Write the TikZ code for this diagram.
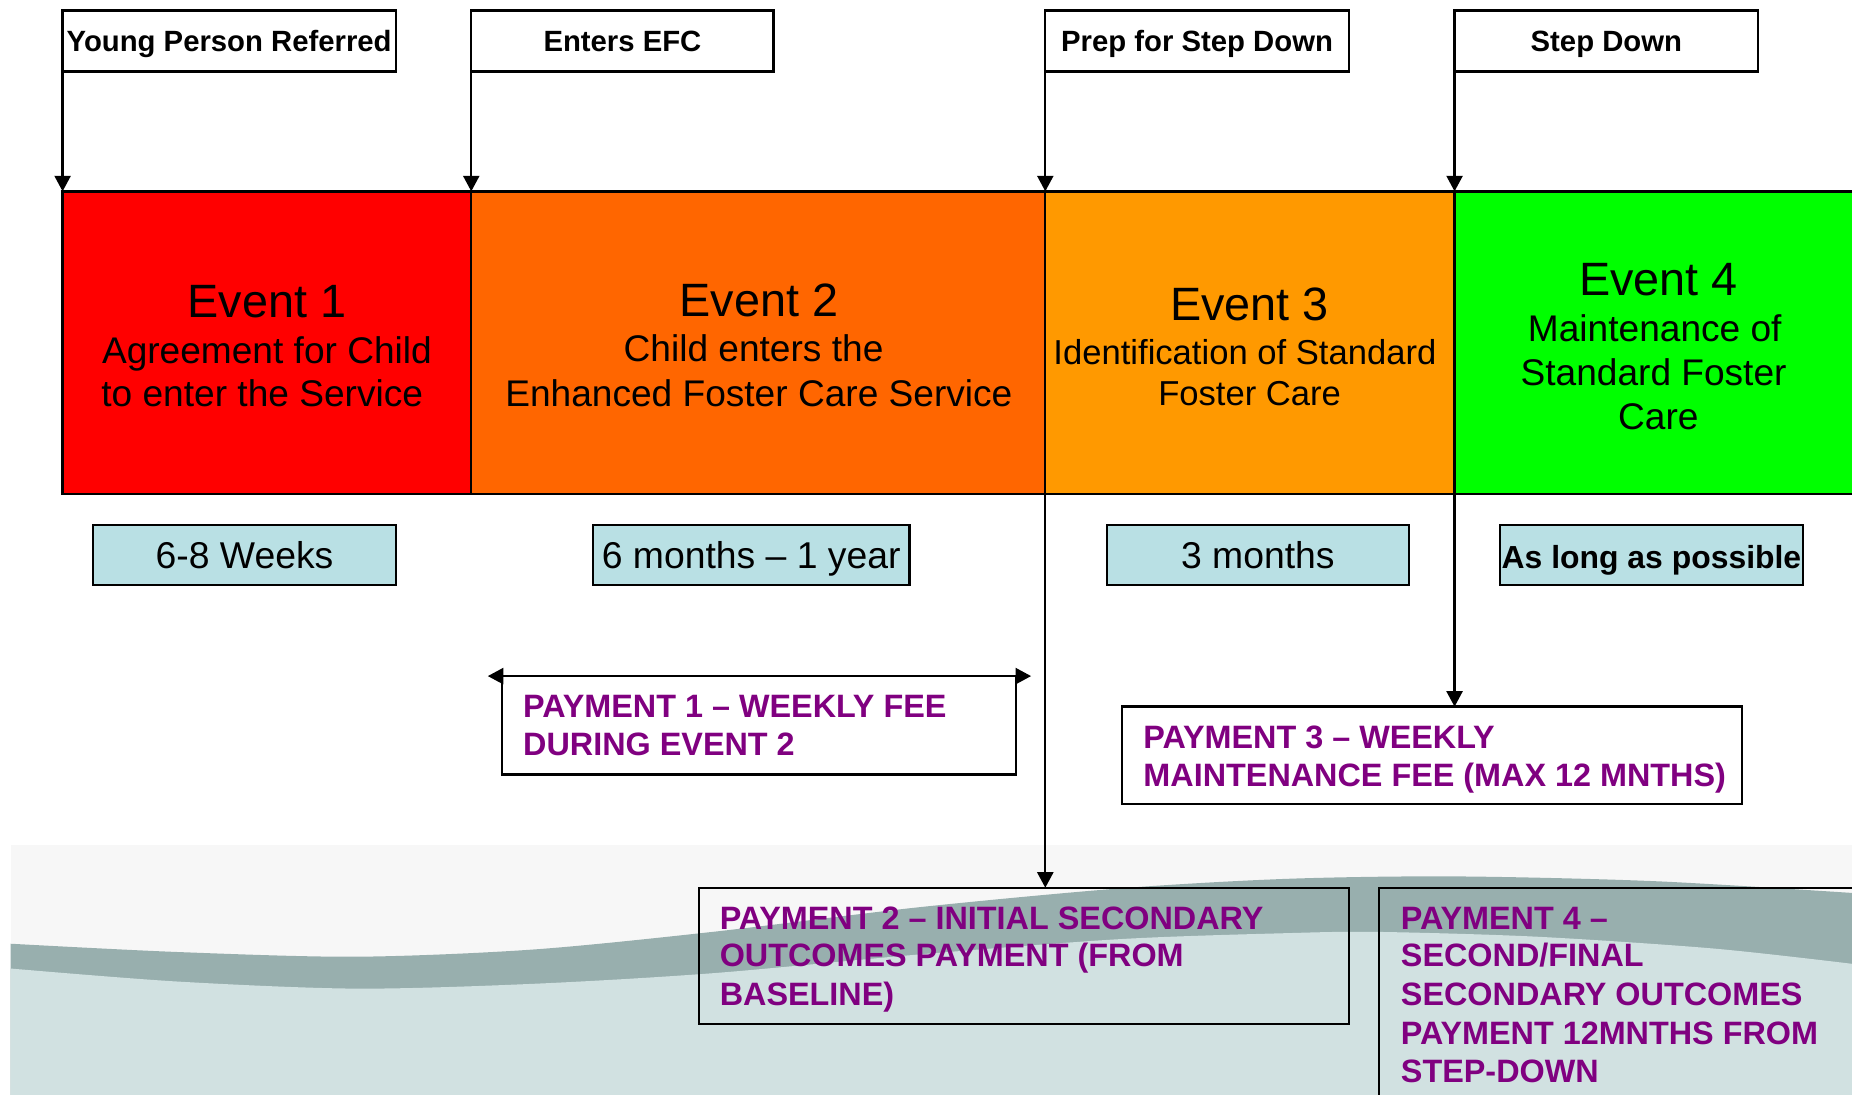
\documentclass[tikz,border=0pt]{standalone}
\usepackage{fontspec}
\setmainfont{Liberation Sans}
\usetikzlibrary{arrows.meta}
\definecolor{evA}{HTML}{FF0000}
\definecolor{evB}{HTML}{FF6600}
\definecolor{evC}{HTML}{FF9900}
\definecolor{evD}{HTML}{00FF00}
\definecolor{durfill}{HTML}{B9E0E4}
\definecolor{paytxt}{HTML}{800080}
\definecolor{bgA}{HTML}{F7F7F7}
\definecolor{bandc}{HTML}{98AFAE}
\definecolor{lowc}{HTML}{D1E1E1}
\begin{document}
\begin{tikzpicture}[x=0.5pt,y=-0.5pt,
  boxbase/.style={draw=black, line width=1pt, inner sep=0pt, outer sep=0pt},
  labbox/.style={boxbase, fill=white, minimum height=25.7pt},
  evbox/.style={boxbase, minimum height=128pt},
  durbox/.style={boxbase, fill=durfill, minimum height=25.5pt},
  paybox/.style={boxbase},
  labtxt/.style={anchor=base, inner sep=0pt, font=\fontsize{12.4}{14}\selectfont\bfseries},
  evtitle/.style={anchor=base, inner sep=0pt, font=\fontsize{19.8}{22}\selectfont},
  evsub/.style={anchor=base, inner sep=0pt, font=\fontsize{15.7}{18}\selectfont},
  evsubs/.style={anchor=base, inner sep=0pt, font=\fontsize{14.65}{17}\selectfont},
  durtxt/.style={anchor=base, inner sep=0pt, font=\fontsize{15.8}{18}\selectfont},
  durbold/.style={anchor=base, inner sep=0pt, font=\fontsize{13.5}{16}\selectfont\bfseries},
  paytext/.style={anchor=base west, inner sep=0pt, text=paytxt, font=\fontsize{13.7}{16}\selectfont\bfseries},
  arr/.style={line width=1pt, -{Triangle[length=6.6pt,width=6.8pt]}},
  darr/.style={line width=1pt, {Triangle[length=6.6pt,width=6.8pt]}-{Triangle[length=6.6pt,width=6.8pt]}}
]
\useasboundingbox (0,0) rectangle (1568,927);
\fill[white] (0,0) rectangle (1568,927);

% background wave
\fill[bgA] (9,715.4) rectangle (1568,927);
\fill[bandc] plot[smooth] coordinates {(9,799) (150,806) (301,810) (450,804) (603,789) (779,768) (950,752) (1091,744) (1232,742) (1400,746) (1568,756)} -- (1568,927) -- (9,927) -- cycle;
\fill[lowc] plot[smooth] coordinates {(9,820) (150,831) (301,837) (450,833) (603,824) (779,808) (950,795) (1091,790) (1167,789) (1300,793) (1450,803) (1568,816)} -- (1568,927) -- (9,927) -- cycle;

% top labels
\node[labbox, minimum width=141pt] (yp) at (194,34.7) {};
\node[labbox, minimum width=128pt] (ef) at (527,34.7) {};
\node[labbox, minimum width=128.5pt] (pr) at (1013.5,34.7) {};
\node[labbox, minimum width=128.5pt] (sd) at (1360,34.7) {};
\node[labtxt] (ypt) at (194,43.8) {Young Person Referred};
\node[labtxt] (eft) at (527,43.8) {Enters EFC};
\node[labtxt] (prt) at (1013.5,43.8) {Prep for Step Down};
\node[labtxt] (sdt) at (1360,43.8) {Step Down};

% event bar
\node[evbox, fill=evA, minimum width=173pt] (e1) at (226,290) {};
\node[evbox, fill=evB, minimum width=243pt] (e2) at (642,290) {};
\node[evbox, fill=evC, minimum width=173.25pt] (e3) at (1058.25,290) {};
\node[evbox, fill=evD, minimum width=174.25pt] (e4) at (1405.75,290) {};

\node[evtitle] (e1t) at (226,269) {Event 1};
\node[evsub] (e1a) at (226,307.6) {Agreement for Child};
\node[evsub] (e1b) at (222,344.3) {to enter the Service};

\node[evtitle] (e2t) at (642.5,268) {Event 2};
\node[evsub] (e2a) at (638,306) {Child enters the};
\node[evsub] (e2b) at (642.5,344) {Enhanced Foster Care Service};

\node[evtitle] (e3t) at (1058,271.5) {Event 3};
\node[evsubs] (e3a) at (1054,308.5) {Identification of Standard};
\node[evsubs] (e3b) at (1058,343.5) {Foster Care};

\node[evtitle] (e4t) at (1404,249.8) {Event 4};
\node[evsub] (e4a) at (1401,289.3) {Maintenance of};
\node[evsub] (e4b) at (1400,326) {Standard Foster};
\node[evsub] (e4c) at (1404,364) {Care};

% arrows from labels
\draw[arr] (yp.south west) -- (e1.north west);
\draw[arr] (ef.south west) -- (e2.north west);
\draw[arr] (pr.south west) -- (e3.north west);
\draw[arr] (sd.south west) -- (e4.north west);

% durations
\node[durbox, minimum width=128pt] (d1) at (207,470) {};
\node[durbox, minimum width=134pt] (d2) at (636,470) {};
\node[durbox, minimum width=128pt] (d3) at (1065,470) {};
\node[durbox, minimum width=128.2pt] (d4) at (1398.2,470) {};
\node[durtxt] (d1t) at (207,481) {6-8 Weeks};
\node[durtxt] (d2t) at (636,481) {6 months -- 1 year};
\node[durtxt] (d3t) at (1065,481) {3 months};
\node[durbold] (d4t) at (1398.2,481) {As long as possible};

% payment boxes
\node[paybox, fill=white, minimum width=217.7pt, minimum height=41.6pt] (p1) at (642.5,614) {};
\node[paybox, fill=white, minimum width=262.55pt, minimum height=41.2pt] (p3) at (1212.35,639.5) {};
\node[paybox, minimum width=275.2pt, minimum height=57.7pt] (p2) at (866.8,809.3) {};
\node[paybox, minimum width=216.2pt, minimum height=104.2pt] (p4) at (1383.8,855.8) {};

\coordinate (p1l) at (413,572.4);
\coordinate (p1r) at (873,572.4);
\draw[darr] (p1l) -- (p1r);

\draw[arr] (e3.south west) -- (e3.south west |- p2.north);
\draw[arr] (e4.south west) -- (e4.south west |- p3.north);

\node[paytext] (p1a) at (442.6,607.7) {PAYMENT 1 -- WEEKLY FEE};
\node[paytext] (p1b) at (442.6,639.8) {DURING EVENT 2};

\node[paytext] (p3a) at (967.7,633.5) {PAYMENT 3 -- WEEKLY};
\node[paytext] (p3b) at (967.7,666) {MAINTENANCE FEE (MAX 12 MNTHS)};

\node[paytext] (p2a) at (609,786.6) {PAYMENT 2 -- INITIAL SECONDARY};
\node[paytext] (p2b) at (609,818.5) {OUTCOMES PAYMENT (FROM};
\node[paytext] (p2c) at (609,851.5) {BASELINE)};

\node[paytext] (p4a) at (1185.7,786.6) {PAYMENT 4 --};
\node[paytext] (p4b) at (1185.7,818.5) {SECOND/FINAL};
\node[paytext] (p4c) at (1185.7,851.5) {SECONDARY OUTCOMES};
\node[paytext] (p4d) at (1185.7,884) {PAYMENT 12MNTHS FROM};
\node[paytext] (p4e) at (1185.7,916.7) {STEP-DOWN};
\end{tikzpicture}
\end{document}
